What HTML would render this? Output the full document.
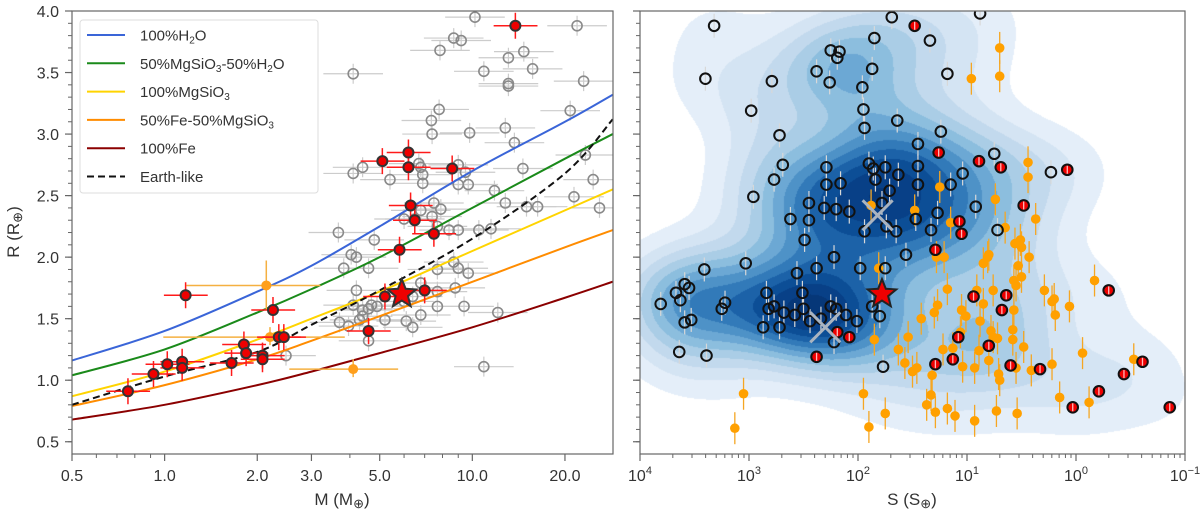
<!DOCTYPE html>
<html><head><meta charset="utf-8"><style>
html,body{margin:0;padding:0;background:#fff;width:1200px;height:516px;overflow:hidden}
svg text{font-family:"Liberation Sans",sans-serif;fill:#333}
</style></head><body>
<svg id="chart" width="1200" height="516" xmlns="http://www.w3.org/2000/svg">
<defs>
<clipPath id="clipL"><rect x="72" y="11" width="541" height="443"/></clipPath>
<clipPath id="clipR"><rect x="640" y="11" width="545" height="443"/></clipPath>
</defs>
<g id="left"></g>
<foreignObject x="640" y="11" width="545" height="443"><canvas id="kde" width="545" height="443" xmlns="http://www.w3.org/1999/xhtml" style="display:block"></canvas></foreignObject>
<g id="right"></g>
</svg>
<script>
// ---------------- DATA ----------------
const modelMass = [0.5,1,2,3,5,10,20,28.6];
const rH2O      = [1.16,1.40,1.72,1.93,2.25,2.70,3.10,3.32];
const rMgH2O    = [1.04,1.25,1.55,1.74,2.00,2.40,2.80,3.00];
const rMgSiO3   = [0.87,1.07,1.33,1.50,1.72,2.05,2.38,2.55];
const rFeMg     = [0.79,0.96,1.17,1.32,1.52,1.80,2.08,2.22];
const rFe       = [0.68,0.80,0.96,1.07,1.22,1.43,1.67,1.80];
const rEarth    = [0.80,1.03,1.23,1.45,1.73,2.15,2.68,3.12];

const grayM = [4.1,10.2,8.7,9.2,7.85,10.9,13.1,13.1,13.1,14.7,15.7,21.9,23,20.8,7.8,7.36,7.4,9.8,12.8,13.7,14.6,23.3,24.7,25.9,21.4,16.3,15.0,12.8,11.8,11.5,10.5,9.0,9.7,9.5,9.0,4.1,4.4,5.4,6.7,6.8,6.9,6.9,7.5,7.9,6.8,6.5,6.0,7.4,7.7,8.4,9.0,3.67,4.8,4.04,4.2,3.82,4.6,7.7,8.7,9.0,9.7,4.2,6.8,7.7,8.8,4.1,4.4,4.7,4.9,4.6,3.7,3.96,4.3,4.4,5.2,6.1,6.4,6.8,7.7,9.4,12.1,10.9,4.6,2.48,6.0,6.4];
const grayR = [3.49,3.95,3.78,3.76,3.68,3.51,3.62,3.41,3.39,3.67,3.53,3.88,3.43,3.19,3.20,3.11,3.0,3.01,3.05,2.93,2.72,2.83,2.63,2.40,2.49,2.41,2.41,2.44,2.54,2.23,2.22,2.59,2.59,2.69,2.75,2.68,2.73,2.63,2.76,2.73,2.67,2.60,2.44,2.39,2.38,2.31,2.31,2.33,2.25,2.22,2.22,2.20,2.14,2.02,2.0,1.91,1.91,1.90,1.96,1.91,1.87,1.73,1.79,1.72,1.75,1.61,1.57,1.61,1.60,1.58,1.47,1.44,1.49,1.52,1.49,1.48,1.43,1.53,1.60,1.60,1.55,1.11,1.32,1.20,1.64,1.68];
const redM = [0.76,0.92,1.02,1.14,1.14,1.17,1.65,1.81,1.84,2.08,2.08,2.25,2.35,2.44,4.6,5.1,6.2,6.2,6.3,6.5,5.8,7.5,8.6,13.8,5.2,7.0];
const redR = [0.91,1.05,1.13,1.15,1.10,1.69,1.14,1.29,1.22,1.20,1.17,1.57,1.35,1.35,1.40,2.78,2.73,2.85,2.42,2.30,2.06,2.19,2.72,3.88,1.68,1.73];
const orangeM = [2.14,2.2,4.1];
const orangeR = [1.77,1.35,1.09];
const starM = 5.9, starR = 1.70;

const blackS = [3.32,3.40,2.79,2.98,2.72,2.69,2.77,2.96,3.03,3.41,3.81,3.67,3.59,3.55,3.63,3.59,3.53,3.64,3.39,3.25,3.22,2.84,2.82,2.77,2.87,2.72,2.68,2.58,2.51,2.50,2.56,2.38,2.44,2.34,2.25,2.20,2.11,2.01,2.22,2.49,2.45,2.45,2.31,2.62,2.29,2.29,2.16,2.20,2.08,2.22,2.38,2.26,2.25,2.17,2.19,1.85,1.69,1.87,1.96,1.95,1.94,1.64,1.34,1.18,0.88,1.90,1.86,1.75,1.63,1.84,1.71,1.78,1.94,1.74,1.65,1.98,1.75,1.80,1.87,1.56,1.45,1.45,1.45,1.47,1.33,1.27,1.24,1.15,1.04,0.92,0.75,0.72,0.23,1.77];
const blackR = [3.88,3.45,3.43,3.19,2.99,2.75,2.63,2.49,1.95,1.90,1.62,1.71,1.78,1.75,1.65,1.47,1.49,1.23,1.20,1.58,1.63,1.71,1.58,1.60,1.43,1.43,1.55,1.53,1.71,1.58,1.87,1.91,1.48,1.50,1.60,1.58,1.53,1.48,1.31,2.14,2.30,2.44,2.40,2.31,2.59,2.73,2.60,2.39,2.37,2.0,3.51,3.42,3.68,3.67,3.62,3.78,3.95,3.53,3.38,3.20,3.05,3.11,3.76,3.49,3.98,2.76,2.72,2.73,2.67,2.63,2.54,2.44,2.21,2.25,2.21,1.91,1.91,1.52,1.60,2.02,2.92,2.74,2.59,2.31,2.22,2.36,3.02,2.59,2.68,2.41,2.84,2.22,2.69,1.11];
const redS = [1.48,1.26,0.89,0.69,0.08,0.48,1.07,1.05,1.29,0.94,0.64,0.68,-0.30,2.38,2.19,2.08,1.08,0.80,1.29,1.13,0.60,0.33,-0.61,-0.44,-0.21,0.03,-0.86];
const redRS = [3.88,2.85,2.78,2.73,2.71,2.42,2.29,2.19,2.06,1.68,1.69,1.57,1.73,1.19,1.39,1.35,1.35,1.28,1.13,1.17,1.12,1.09,1.15,1.05,0.91,0.78,0.78];
const orangeS = [0.70,0.70,0.96,1.25,0.74,0.44,0.44,0.37,0.65,1.15,1.48,1.88,0.56,0.51,0.50,0.43,0.80,0.81,0.85,0.53,0.50,0.57,0.55,1.28,1.21,1.81,1.18,0.91,0.76,0.29,-0.17,0.22,0.20,0.19,0.06,-0.06,1.27,1.30,1.05,1.01,0.85,0.88,0.57,1.42,0.78,0.76,0.72,0.58,0.58,0.48,1.06,1.22,1.13,0.89,0.80,1.04,0.93,1.54,1.63,1.57,1.85,1.46,1.50,1.32,1.33,1.37,1.29,1.18,1.11,0.71,0.70,0.73,0.54,0.41,0.55,0.22,0.15,-0.12,-0.53,0.93,1.95,1.75,1.90,3.05,3.13];
const orangeRS = [3.70,3.47,3.45,2.57,2.47,2.77,2.65,2.31,2.24,2.28,2.38,2.42,2.11,2.14,2.08,2.0,2.02,2.0,1.95,1.93,1.84,1.81,1.77,2.0,2.0,1.91,1.74,1.73,1.73,1.73,1.81,1.64,1.66,1.53,1.60,1.22,1.61,1.55,1.57,1.52,1.62,1.48,1.57,1.50,1.40,1.35,1.34,1.41,1.33,1.27,1.39,1.25,1.26,1.24,1.16,1.11,1.10,1.35,1.25,1.14,1.33,1.10,1.07,1.04,0.88,0.80,0.74,0.77,0.71,1.05,1.0,0.75,0.73,1.08,1.10,1.13,0.86,0.82,1.17,0.67,0.89,0.73,0.62,0.89,0.61];
const starS = 1.78;
const crossS = [1.82,2.30], crossR = [2.34,1.43];
const xTicksL = [0.5,1,2,3,5,10,20];
const xTickLabelsL = ["0.5","1.0","2.0","3.0","5.0","10.0","20.0"];
const yTicks = [0.5,1.0,1.5,2.0,2.5,3.0,3.5,4.0];
const sDecades = [4,3,2,1,0,-1];

// ---------------- SCALES ----------------
const NS="http://www.w3.org/2000/svg";
const XL = m => 72 + 307.7*Math.log10(m/0.5);
const Y  = r => 11 + (4-r)*123.07;
const XR = ls => 640 + (4-ls)*109;
function el(tag, attrs, parent){const e=document.createElementNS(NS,tag);for(const k in attrs)e.setAttribute(k,attrs[k]);parent.appendChild(e);return e;}
const L=document.getElementById('left'), R=document.getElementById('right');

// ---------------- LEFT PANEL ----------------
const gL=el('g',{'clip-path':'url(#clipL)'},L);


grayM.forEach((m,i)=>{
  const x=XL(m),y=Y(grayR[i]);
  const eb=el('path',{d:`M${XL(m*0.8)},${y}H${XL(m*1.25)}M${x},${y-10}V${y+10}`,stroke:'#ccc','stroke-width':1.2},gL);
  
  
});
grayM.forEach((m,i)=>{
  const c=el('circle',{cx:XL(m),cy:Y(grayR[i]),r:5,fill:'none',stroke:'#8a8a8a','stroke-width':1.6},gL);
  
  
});
const models=[[rH2O,'#3a65d8','curve-100-h2o'],[rMgH2O,'#1a8a1a','curve-50-mgsio3-50-h2o'],[rMgSiO3,'#ffd400','curve-100-mgsio3'],[rFeMg,'#ff8c00','curve-50-fe-50-mgsio3'],[rFe,'#8b0000','curve-100-fe']];
function curvePath(arr){
  const pts=modelMass.map((m,i)=>[XL(m),Y(arr[i])]);
  let d=`M${pts[0][0]},${pts[0][1]}`;
  for(let i=0;i<pts.length-1;i++){
    const p0=pts[Math.max(0,i-1)],p1=pts[i],p2=pts[i+1],p3=pts[Math.min(pts.length-1,i+2)];
    d+=`C${p1[0]+(p2[0]-p0[0])/6},${p1[1]+(p2[1]-p0[1])/6} ${p2[0]-(p3[0]-p1[0])/6},${p2[1]-(p3[1]-p1[1])/6} ${p2[0]},${p2[1]}`;
  }
  return d;
}
models.forEach(([arr,col,name])=>{
  const p=el('path',{d:curvePath(arr),fill:'none',stroke:col,'stroke-width':2},gL);
  
  
});
const pe=el('path',{d:curvePath(rEarth),fill:'none',stroke:'#111','stroke-width':2,'stroke-dasharray':'7,4'},gL);


orangeM.forEach((m,i)=>{
  const x=XL(m),y=Y(orangeR[i]);
  const lo=[0.55,0.45,0.62][i], hi=[1.5,1.75,1.4][i];
  const eb=el('path',{d:`M${XL(m*lo)},${y}H${XL(m*hi)}M${x},${y-(i==0?25:10)}V${y+(i==0?25:8)}`,stroke:'#f5b041','stroke-width':1.5},gL);
  
  
  const c=el('circle',{cx:x,cy:y,r:5,fill:'#ff9f1c'},gL);
  
  
});
redM.forEach((m,i)=>{
  const x=XL(m),y=Y(redR[i]);
  const eb=el('path',{d:`M${XL(m*0.85)},${y}H${XL(m*1.18)}M${x},${y-13}V${y+13}`,stroke:'#ff1a1a','stroke-width':1.5},gL);
  
  
});
redM.forEach((m,i)=>{
  const c=el('circle',{cx:XL(m),cy:Y(redR[i]),r:5,fill:'#e00',stroke:'#333','stroke-width':2},gL);
  
  
});
function star(cx,cy,ro,ri){let d='';for(let k=0;k<10;k++){const a=-Math.PI/2+k*Math.PI/5,r=k%2?ri:ro;d+=(k?'L':'M')+(cx+r*Math.cos(a))+','+(cy+r*Math.sin(a));}return d+'Z';}
const st=el('path',{d:star(XL(starM),Y(starR),15,6.5),fill:'#e00',stroke:'#333','stroke-width':2},gL);



const fl=el('rect',{x:72,y:11,width:541,height:443,fill:'none',stroke:'#666','stroke-width':1.2},L);


const minorM=[0.6,0.7,0.8,0.9,4,6,7,8,9];
minorM.forEach(m=>{el('line',{x1:XL(m),x2:XL(m),y1:454,y2:458,stroke:'#666'},L);});
xTicksL.forEach((m,i)=>{
  el('line',{x1:XL(m),x2:XL(m),y1:454,y2:461,stroke:'#666','stroke-width':1.2},L);
  const t=el('text',{x:XL(m),y:481,'text-anchor':'middle','font-size':16},L);t.textContent=xTickLabelsL[i];
  
  
});
function yAxis(x0,parent,labels){
  for(let v=0.5;v<=4.0001;v+=0.1){el('line',{x1:x0-4,x2:x0,y1:Y(v),y2:Y(v),stroke:'#666'},parent);}
  yTicks.forEach(v=>{
    el('line',{x1:x0-7,x2:x0,y1:Y(v),y2:Y(v),stroke:'#666','stroke-width':1.2},parent);
    if(labels){const t=el('text',{x:x0-13,y:Y(v)+6,'text-anchor':'end','font-size':16},parent);t.textContent=v.toFixed(1);
      
      }
  });
}
yAxis(72,L,true);
const xt=el('text',{x:342,y:505,'text-anchor':'middle','font-size':17},L);xt.innerHTML='M (M<tspan font-size="13" dy="3">⊕</tspan><tspan dy="-3">)</tspan>';


const yt=el('text',{x:0,y:0,'text-anchor':'middle','font-size':17,transform:'translate(19,232) rotate(-90)'},L);yt.innerHTML='R (R<tspan font-size="13" dy="3">⊕</tspan><tspan dy="-3">)</tspan>';



const lg=el('g',{},L);


el('rect',{x:80,y:20,width:238,height:173,rx:3,fill:'#fff','fill-opacity':0.9,stroke:'#ddd'},lg);
const legItems=[['#3a65d8','100%H<tspan font-size="10" dy="3">2</tspan><tspan dy="-3">O</tspan>',false],
 ['#1a8a1a','50%MgSiO<tspan font-size="10" dy="3">3</tspan><tspan dy="-3">-50%H</tspan><tspan font-size="10" dy="3">2</tspan><tspan dy="-3">O</tspan>',false],
 ['#ffd400','100%MgSiO<tspan font-size="10" dy="3">3</tspan>',false],
 ['#ff8c00','50%Fe-50%MgSiO<tspan font-size="10" dy="3">3</tspan>',false],
 ['#8b0000','100%Fe',false],['#111','Earth-like',true]];
legItems.forEach(([c,txt,dash],i)=>{
  const y=35+i*28.3;
  const g=el('g',{},lg);
  
  
  el('line',{x1:87,x2:125,y1:y,y2:y,stroke:c,'stroke-width':2,'stroke-dasharray':dash?'7,4':'none'},g);
  const t=el('text',{x:140,y:y+5.5,'font-size':15},g);t.innerHTML=txt;
});

// ---------------- RIGHT PANEL ----------------
(function(){
  const cv=document.getElementById('kde'),ctx=cv.getContext('2d');
  const W=545,H=443,img=ctx.createImageData(W,H);
  const ps=[],pr=[],pw=[];
  blackS.forEach((s,i)=>{ps.push(s);pr.push(blackR[i]);pw.push(1);});
  redS.forEach((s,i)=>{ps.push(s);pr.push(redRS[i]);pw.push(0.6);});
  orangeS.forEach((s,i)=>{ps.push(s);pr.push(orangeRS[i]);pw.push(0.15);});
  const hx=0.38, hy=0.26;
  const step=2, gw=Math.ceil(W/step)+2, gh=Math.ceil(H/step)+2, grid=new Float32Array(gw*gh);
  let mx=0;
  for(let j=0;j<gh;j++){const r=4-(j*step)/123.07;
    for(let i=0;i<gw;i++){const ls=4-(i*step)/109;let s=0;
      for(let k=0;k<ps.length;k++){const dx=(ls-ps[k])/hx,dy=(r-pr[k])/hy;s+=pw[k]*Math.exp(-0.5*(dx*dx+dy*dy));}
      grid[j*gw+i]=s;if(s>mx)mx=s;}}
  const lv=[0.07,0.15,0.23,0.31,0.39,0.47,0.55,0.63,0.71,0.79,0.87,0.95];
  const stops=[[228,238,249],[212,228,243],[194,217,237],[170,205,230],[140,190,222],[108,168,212],[78,146,199],[50,122,185],[28,98,168],[12,78,150],[8,64,135],[6,55,120]];
  for(let y=0;y<H;y++){for(let x=0;x<W;x++){
    const gi=x/step,gj=y/step,i0=Math.floor(gi),j0=Math.floor(gj),fx=gi-i0,fy=gj-j0;
    const v=(grid[j0*gw+i0]*(1-fx)*(1-fy)+grid[j0*gw+i0+1]*fx*(1-fy)+grid[(j0+1)*gw+i0]*(1-fx)*fy+grid[(j0+1)*gw+i0+1]*fx*fy)/mx;
    let n=0;while(n<lv.length&&v>=lv[n])n++;
    const o=(y*W+x)*4;
    if(n===0){img.data[o+3]=0;}
    else{const c=stops[n-1];img.data[o]=c[0];img.data[o+1]=c[1];img.data[o+2]=c[2];img.data[o+3]=255;}
  }}
  ctx.putImageData(img,0,0);
})();
const gR=el('g',{'clip-path':'url(#clipR)'},R);


blackS.forEach((s,i)=>{
  const x=XR(s),y=Y(blackR[i]);
  const eb=el('line',{x1:x,x2:x,y1:y-12,y2:y+12,stroke:'#d8d8d8','stroke-width':1.2},gR);
  
  
});
orangeS.forEach((s,i)=>{
  const x=XR(s),y=Y(orangeRS[i]);
  const eb=el('line',{x1:x,x2:x,y1:y-16,y2:y+16,stroke:'#f5a623','stroke-width':1.3},gR);
  
  
});
orangeS.forEach((s,i)=>{
  const c=el('circle',{cx:XR(s),cy:Y(orangeRS[i]),r:4.8,fill:'#ffa000'},gR);
  
  
});
blackS.forEach((s,i)=>{
  const c=el('circle',{cx:XR(s),cy:Y(blackR[i]),r:5.3,fill:'none',stroke:'#111','stroke-width':2},gR);
  
  
});
redS.forEach((s,i)=>{
  const x=XR(s),y=Y(redRS[i]);
  const c=el('circle',{cx:x,cy:y,r:5.3,fill:'#e00',stroke:'#111','stroke-width':2},gR);
  
  
  el('line',{x1:x,x2:x,y1:y-4,y2:y+4,stroke:'#fbb','stroke-width':1.3},gR);
});
crossS.forEach((s,i)=>{
  const x=XR(s),y=Y(crossR[i]);
  const c=el('path',{d:`M${x-15},${y-15}L${x+15},${y+15}M${x-15},${y+15}L${x+15},${y-15}`,stroke:'#aab4c0','stroke-width':3},gR);
  
  
});
const st2=el('path',{d:star(XR(starS),Y(starR),15,6.5),fill:'#e00',stroke:'#222','stroke-width':2},gR);



const fr=el('rect',{x:640,y:11,width:545,height:443,fill:'none',stroke:'#666','stroke-width':1.2},R);


yAxis(640,R,false);
sDecades.forEach((d,i)=>{
  el('line',{x1:XR(d),x2:XR(d),y1:454,y2:461,stroke:'#666','stroke-width':1.2},R);
  if(i<sDecades.length-1){for(let k=2;k<=9;k++){const x=XR(d-Math.log10(k));el('line',{x1:x,x2:x,y1:454,y2:458,stroke:'#666'},R);}}
  const t=el('text',{x:XR(d),y:481,'text-anchor':'middle','font-size':16},R);
  t.innerHTML='10<tspan font-size="11" dy="-7">'+(d<0?'−'+(-d):d)+'</tspan>';
  
  
});
const xt2=el('text',{x:912,y:505,'text-anchor':'middle','font-size':17},R);xt2.innerHTML='S (S<tspan font-size="13" dy="3">⊕</tspan><tspan dy="-3">)</tspan>';


</script>
</body></html>
